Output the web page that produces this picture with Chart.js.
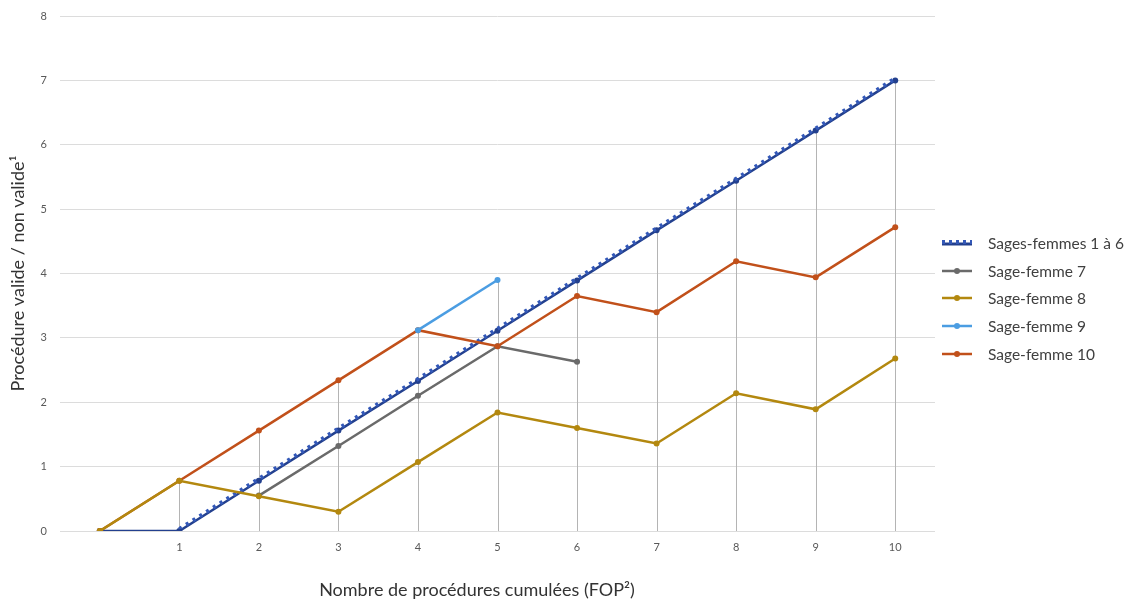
<!DOCTYPE html>
<html>
<head>
<meta charset="utf-8">
<script src="https://cdn.jsdelivr.net/npm/chart.js@4.4.1/dist/chart.umd.min.js"></script>
<style>
  body { margin: 0; background: #fff; font-family: Lato, "Open Sans", sans-serif; }
  #wrap { position: relative; width: 1130px; height: 601px; }
  canvas { display: block; }
  #legend { position: absolute; left: 940px; top: 229px; }
  .item { height: 27.7px; display: flex; align-items: center; font-size: 15.5px; color: #404040; }
  .item svg { width: 34px; height: 12px; margin-right: 14px; }
  #xtitle { position: absolute; left: 477px; top: 578px; transform: translateX(-50%); white-space: nowrap;
            font-size: 18px; color: #333; line-height: 22px; }
</style>
</head>
<body>
<div id="wrap">
  <canvas id="chart" width="1130" height="601"></canvas>
  <div id="legend"></div>
  <div id="xtitle">Nombre de procédures cumulées (FOP²)</div>
</div>
<script>
// categories on the x axis (first one has no label)
var categories = ['', '1', '2', '3', '4', '5', '6', '7', '8', '9', '10'];

// series values
var sf1to6 = [0, 0, 0.78, 1.56, 2.33, 3.11, 3.89, 4.67, 5.44, 6.22, 7.0];
var sf7 = [null, null, 0.55, 1.32, 2.1, 2.87, 2.63, null, null, null, null];
var sf8 = [0, 0.78, 0.54, 0.3, 1.07, 1.84, 1.6, 1.36, 2.14, 1.89, 2.68];
var sf9 = [null, null, null, null, 3.12, 3.9, null, null, null, null, null];
var sf10 = [0, 0.78, 1.56, 2.34, 3.12, 2.87, 3.65, 3.4, 4.19, 3.94, 4.72];

var yTicks = [0, 1, 2, 3, 4, 5, 6, 7, 8];

var colors = {
    navy: '#23408e',
    dash: '#3358b8',
    gray: '#6a6a6a',
    gold: '#b3880f',
    light: '#4b9de2',
    orange: '#c1501a'
};

// dashed part of the first series starts at procedure 1
var sf1to6Dashed = sf1to6.map(function(v, i) { return i < 1 ? null : v; });

// vertical drop lines from 0 up to the highest value at each category
var dropLines = {
    id: 'dropLines',
    beforeDatasetsDraw: function(chart) {
        var ctx = chart.ctx;
        var x = chart.scales.x, y = chart.scales.y;
        var all = [sf1to6, sf7, sf8, sf9, sf10];
        ctx.save();
        ctx.strokeStyle = '#b4b4b4';
        ctx.lineWidth = 1;
        for (var i = 1; i < categories.length; i++) {
            var max = null;
            all.forEach(function(s) {
                if (s[i] !== null && (max === null || s[i] > max)) max = s[i];
            });
            if (max === null || max <= 0) continue;
            var px = Math.round(x.getPixelForValue(i)) + 0.5;
            ctx.beginPath();
            ctx.moveTo(px, y.getPixelForValue(0));
            ctx.lineTo(px, y.getPixelForValue(max));
            ctx.stroke();
        }
        ctx.restore();
    }
};

// lift the dashed overlay a little so the dashes sit on top of the solid line
var liftDashed = {
    id: 'liftDashed',
    beforeDatasetDraw: function(chart, args) {
        if (chart.data.datasets[args.index].lift) {
            chart.ctx.save();
            chart.ctx.translate(0, -2);
        }
    },
    afterDatasetDraw: function(chart, args) {
        if (chart.data.datasets[args.index].lift) {
            chart.ctx.restore();
        }
    }
};

function line(label, data, color, width, order) {
    return {
        label: label,
        data: data,
        borderColor: color,
        backgroundColor: color,
        borderWidth: width,
        pointRadius: 3,
        pointHoverRadius: 3,
        pointBorderWidth: 0,
        spanGaps: false,
        order: order
    };
}

var datasets = [
    line('Sage-femme 9', sf9, colors.light, 2.5, 0),
    line('Sage-femme 8', sf8, colors.gold, 2.5, 1),
    line('Sage-femme 10', sf10, colors.orange, 2.5, 2),
    line('Sage-femme 7', sf7, colors.gray, 2.5, 3),
    Object.assign(line('Sages-femmes 1 à 6', sf1to6Dashed, colors.dash, 4, 4),
        { borderDash: [3, 5], pointRadius: 0, lift: true }),
    line('Sages-femmes 1 à 6 (ligne)', sf1to6, colors.navy, 2.5, 5)
];

Chart.defaults.font.family = 'Lato, "Open Sans", sans-serif';

new Chart(document.getElementById('chart'), {
    type: 'line',
    data: { labels: categories, datasets: datasets },
    plugins: [dropLines, liftDashed],
    options: {
        responsive: false,
        animation: false,
        devicePixelRatio: 1,
        layout: { padding: { top: 0, right: 195, left: 0, bottom: 0 } },
        plugins: { legend: { display: false }, tooltip: { enabled: false } },
        scales: {
            x: {
                type: 'category',
                offset: true,
                grid: { display: false, drawTicks: false },
                border: { display: false },
                ticks: { color: '#595959', font: { size: 11 }, padding: 10, maxRotation: 0, autoSkip: false },
                afterFit: function(scale) { scale.height = 70; }
            },
            y: {
                min: 0,
                max: 8,
                afterBuildTicks: function(scale) {
                    scale.ticks = yTicks.map(function(v) { return { value: v }; });
                },
                grid: { color: '#dcdcdc', lineWidth: 1, drawTicks: false },
                border: { display: false },
                ticks: { color: '#595959', font: { size: 11, lineHeight: 1 }, padding: 13 },
                title: {
                    display: true,
                    text: 'Procédure valide / non valide¹',
                    color: '#333333',
                    font: { size: 18 },
                    padding: { top: 7, bottom: 0 }
                },
                afterFit: function(scale) {
                    scale.width = 60;
                    scale.paddingTop = 16;
                }
            }
        }
    }
});

// legend on the right, in series order
var legendItems = [
    ['Sages-femmes 1 à 6', 'dash'],
    ['Sage-femme 7', colors.gray],
    ['Sage-femme 8', colors.gold],
    ['Sage-femme 9', colors.light],
    ['Sage-femme 10', colors.orange]
];
var legend = document.getElementById('legend');
legendItems.forEach(function(it) {
    var svg;
    if (it[1] === 'dash') {
        svg = '<svg viewBox="0 0 34 12"><line x1="2" y1="7" x2="32" y2="7" stroke="' + colors.navy + '" stroke-width="3"/>' +
              '<line x1="2" y1="5" x2="32" y2="5" stroke="' + colors.dash + '" stroke-width="4" stroke-dasharray="3 4"/></svg>';
    } else {
        svg = '<svg viewBox="0 0 34 12"><line x1="2" y1="6" x2="32" y2="6" stroke="' + it[1] + '" stroke-width="2.5"/>' +
              '<circle cx="17" cy="6" r="3" fill="' + it[1] + '"/></svg>';
    }
    var div = document.createElement('div');
    div.className = 'item';
    div.innerHTML = svg + '<span>' + it[0] + '</span>';
    legend.appendChild(div);
});
</script>
</body>
</html>
